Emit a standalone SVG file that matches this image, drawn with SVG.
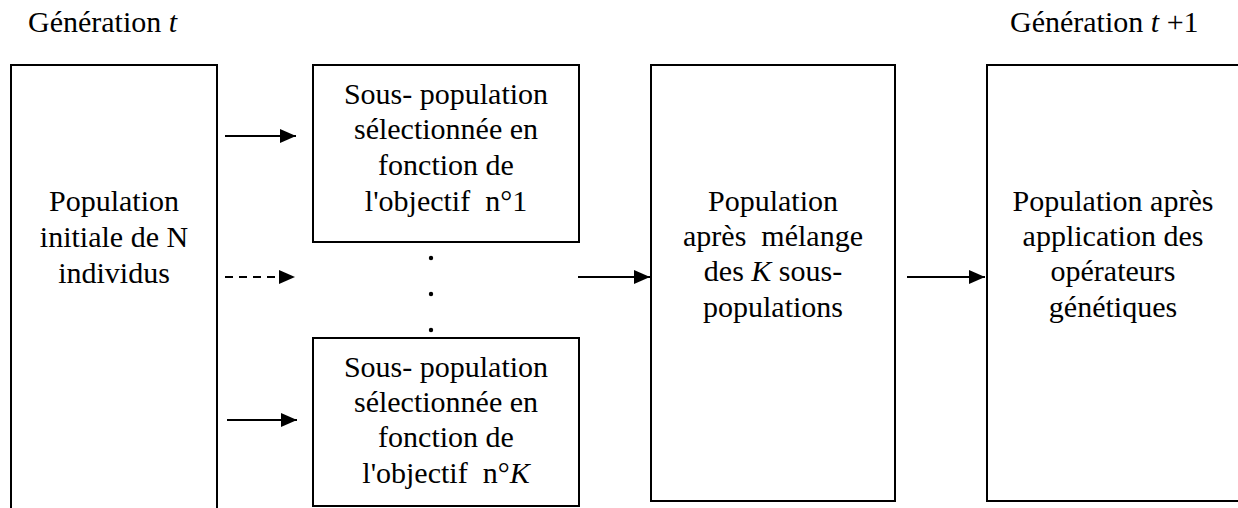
<svg xmlns="http://www.w3.org/2000/svg" width="1238" height="508" viewBox="0 0 1238 508">
<style>
.box{fill:#fff;stroke:#000;stroke-width:2}
.t{font-family:"Liberation Serif","Times New Roman",serif;font-size:30px;fill:#000;text-anchor:middle;white-space:pre}
.h{font-family:"Liberation Serif","Times New Roman",serif;font-size:30px;fill:#000;white-space:pre}
.i{font-style:italic}
.c{stroke:#000;stroke-width:2;fill:none}
.d{stroke-dasharray:8 6}
</style>
<defs>
<marker id="ah" markerWidth="16" markerHeight="14" refX="16" refY="7" orient="auto" markerUnits="userSpaceOnUse">
<path d="M0,0 L16,7 L0,14 Z" fill="#000"/>
</marker>
</defs>
<rect width="1238" height="508" fill="#fff"/>
<text class="h" x="28" y="32">Génération <tspan class="i">t</tspan></text>
<text class="h" x="1010" y="32">Génération <tspan class="i">t</tspan> +1</text>
<g id="n-initial">
<rect class="box" x="11" y="65" width="206" height="460"/>
<text class="t" x="114" y="211">Population</text>
<text class="t" x="114" y="247">initiale de N</text>
<text class="t" x="114" y="283">individus</text>
</g>
<g id="n-sub1">
<rect class="box" x="313" y="65" width="266" height="177"/>
<text class="t" x="446" y="104">Sous- population</text>
<text class="t" x="446" y="139">sélectionnée en</text>
<text class="t" x="446" y="175">fonction de</text>
<text class="t" x="446" y="211">l'objectif  n°1</text>
</g>
<g id="n-dots">
<circle cx="431" cy="258" r="2.2"/>
<circle cx="431" cy="294" r="2.2"/>
<circle cx="431" cy="330" r="2.2"/>
</g>
<g id="n-subK">
<rect class="box" x="313" y="338" width="266" height="168"/>
<text class="t" x="446" y="377">Sous- population</text>
<text class="t" x="446" y="412">sélectionnée en</text>
<text class="t" x="446" y="447">fonction de</text>
<text class="t" x="446" y="483">l'objectif  n°<tspan class="i">K</tspan></text>
</g>
<g id="n-mix">
<rect class="box" x="651" y="65" width="244" height="436"/>
<text class="t" x="773" y="211">Population</text>
<text class="t" x="773" y="246">après  mélange</text>
<text class="t" x="773" y="281">des <tspan class="i">K</tspan> sous-</text>
<text class="t" x="773" y="317">populations</text>
</g>
<g id="n-gen">
<rect class="box" x="987" y="65" width="280" height="436"/>
<text class="t" x="1113" y="211">Population après</text>
<text class="t" x="1113" y="246">application des</text>
<text class="t" x="1113" y="281">opérateurs</text>
<text class="t" x="1113" y="317">génétiques</text>
</g>
<g id="connectors">
<line class="c" x1="225" y1="136" x2="296" y2="136" marker-end="url(#ah)"/>
<line class="c d" x1="225" y1="277" x2="295" y2="277" marker-end="url(#ah)"/>
<line class="c" x1="227" y1="420" x2="297" y2="420" marker-end="url(#ah)"/>
<line class="c" x1="578" y1="277" x2="650" y2="277" marker-end="url(#ah)"/>
<line class="c" x1="907" y1="277" x2="985" y2="277" marker-end="url(#ah)"/>
</g>
</svg>
